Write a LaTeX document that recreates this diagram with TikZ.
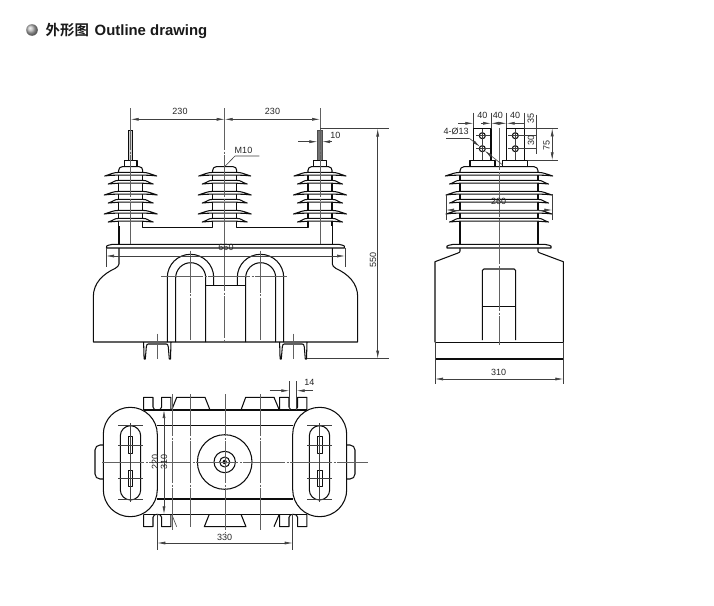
\documentclass[tikz,border=0pt]{standalone}
\usepackage{fontspec}
\setmainfont{Liberation Sans}
\newfontfamily\cjkfont{Noto Sans CJK SC}[BoldFont={Noto Sans CJK SC Bold}]
\usetikzlibrary{arrows.meta}
\definecolor{dimc}{gray}{0.25}
\definecolor{cenc}{gray}{0.38}
\definecolor{inkc}{gray}{0.05}
\tikzset{
  body/.style={draw=inkc,line width=1.05pt,line join=round},
  shedshape/.style={draw=inkc,fill=white,line width=1.05pt,line join=round},
  dimline/.style={draw=dimc,line width=0.6pt},
  extline/.style={draw=dimc,line width=0.6pt},
  cenline/.style={draw=cenc,line width=0.7pt,dash pattern=on 42pt off 1.5pt on 2pt off 1.5pt},
  oneend/.style={dimline,-{Latex[length=8pt,width=3pt]}},
  twoend/.style={dimline,{Latex[length=8pt,width=3pt]}-{Latex[length=8pt,width=3pt]}},
  dimtext/.style={font=\fontsize{9}{9}\selectfont,text=black!85,inner sep=0pt},
  vtext/.style={dimtext,rotate=90}
}
% cx, tip y, half width, stem half width
\newcommand{\shedat}[4]{%
  \filldraw[shedshape] ({#1-#3},#2)
    .. controls ({#1-#3+7},{#2-2.2}) and ({#1-#4-5},{#2-3.6}) .. ({#1-#4},{#2-3.6})
    -- ({#1+#4},{#2-3.6})
    .. controls ({#1+#4+5},{#2-3.6}) and ({#1+#3-7},{#2-2.2}) .. ({#1+#3},#2)
    .. controls ({#1+#3-6},{#2-0.8}) and ({#1+#4+5},{#2-0.8}) .. ({#1+#4},{#2-0.8})
    -- ({#1-#4},{#2-0.8})
    .. controls ({#1-#4-5},{#2-0.8}) and ({#1-#3+6},{#2-0.8}) .. cycle;}
% cx: full stack for front view
\newcommand{\stackat}[1]{%
  \draw[body,rounded corners=3.5pt] ({#1-12},176) -- ({#1-12},166.7) -- ({#1+12},166.7) -- ({#1+12},176);
  \draw[body] ({#1-12},172) -- ({#1-12},226) ({#1+12},172) -- ({#1+12},226);
  \shedat{#1}{176}{26}{12}\shedat{#1}{184}{22.5}{12}
  \shedat{#1}{195}{26.5}{12}\shedat{#1}{203}{22.5}{12}
  \shedat{#1}{214}{26.5}{12}\shedat{#1}{222}{22.5}{12}}
% bottom view mounting foot; #1 centre x, #2 outer y, #3 inner y, #4 sign
\newcommand{\footat}[4]{%
  \draw[body] ({#1-13.6},#3) -- ({#1-13.6},#2) -- ({#1-4.3},#2) -- ({#1-4.3},{#3-#4*3}) .. controls ({#1-4.3},{#3-#4*0.5}) and ({#1-2},{#3}) .. (#1,#3)
   .. controls ({#1+2},{#3}) and ({#1+4.3},{#3-#4*0.5}) .. ({#1+4.3},{#3-#4*3}) -- ({#1+4.3},#2) -- ({#1+13.6},#2) -- ({#1+13.6},#3);}
% front view foot
\newcommand{\legat}[1]{%
  \draw[body,line join=round] ({#1-13.7},342) -- ({#1-13.2},359) -- ({#1-12},359) -- ({#1-11},347)
    .. controls ({#1-10.8},344.5) and ({#1-10},344) .. ({#1-9},344) -- ({#1+9},344)
    .. controls ({#1+10},344) and ({#1+10.8},344.5) .. ({#1+11},347) -- ({#1+12},359) -- ({#1+13.2},359) -- ({#1+13.7},342);}
\begin{document}
\begin{tikzpicture}[x=1pt,y=-1pt]
\useasboundingbox (0,0) rectangle (714,605);
\fill[white] (0,0) rectangle (714,605);
% title
\shade[ball color=black!28] (32,30) circle[radius=5.8pt];
\node[anchor=base west,inner sep=0pt,text=black!90,font=\fontsize{14.4}{15}\selectfont\bfseries\cjkfont] (titlecn) at (45.5,35.5) {外形图};
\node[anchor=base west,inner sep=0pt,text=black!90,font=\fontsize{14.9}{15}\selectfont\bfseries] (titleen) at (94.5,35.5) {Outline drawing};

%%%% FRONT VIEW
% body
\draw[body] (119,248) -- (119,264) .. controls (119,266) and (117,267) .. (115,268.5)
  .. controls (103,274) and (93.3,283) .. (93.3,297) -- (93.3,342) -- (357.7,342) -- (357.7,297)
  .. controls (357.7,283) and (348,274) .. (336,268.5) .. controls (334,267) and (332.3,266) .. (332.3,264) -- (332.3,248);
\draw[body] (106.5,248) .. controls (105.5,246.5) and (106,245.5) .. (112,244.4) -- (339,244.4) .. controls (345,245.5) and (345.5,246.5) .. (344.5,248) -- cycle;
\draw[body] (119,226) -- (119,244) (332.3,226) -- (332.3,244);
\draw[body] (142.7,224) -- (142.7,227.8) -- (212.7,227.8) -- (212.7,224);
\draw[body] (236.7,224) -- (236.7,227.8) -- (308,227.8) -- (308,224);
% rods
\filldraw[draw=inkc,fill=black!18,line width=0.8pt] (128.4,161) -- (128.4,130) -- (132.8,130) -- (132.8,161);
\filldraw[draw=black!70,fill=black!55,line width=0.8pt] (317.4,161) -- (317.4,130) -- (322.2,130) -- (322.2,161);
\draw[body] (124.3,167) -- (124.3,160.7) -- (137,160.7) -- (137,167);
\draw[body] (313.5,167) -- (313.5,160.7) -- (326.5,160.7) -- (326.5,167);
\stackat{130.7}\stackat{224.7}\stackat{320}
% U loops
\draw[body,rounded corners=23.2pt] (167.3,342) -- (167.3,254.3) -- (213.7,254.3) -- (213.7,285.3);
\draw[body,rounded corners=15pt] (175.7,342) -- (175.7,262.7) -- (205.7,262.7) -- (205.7,342);
\draw[body,rounded corners=23.2pt] (237.3,285.3) -- (237.3,254.3) -- (283.7,254.3) -- (283.7,342);
\draw[body,rounded corners=15pt] (245.7,342) -- (245.7,262.7) -- (275.7,262.7) -- (275.7,342);
\draw[body] (205.7,285.5) -- (245.7,285.5);
\legat{157.3}\legat{293.3}
% front centre lines
\draw[cenline] (130.7,108) -- (130.7,244);
\draw[cenline] (224.7,108) -- (224.7,342);
\draw[cenline] (320,108) -- (320,244);
\draw[cenline] (190.3,250.5) -- (190.3,342);
\draw[cenline] (260.7,250.5) -- (260.7,342);
\draw[cenline] (161,276.7) -- (286.7,276.7);
\draw[cenline] (157.3,333.5) -- (157.3,358.5);
\draw[cenline] (293.3,333.5) -- (293.3,358.5);
% front dims
\draw[twoend] (130.7,119.3) -- (224.7,119.3);
\draw[twoend] (224.7,119.3) -- (320,119.3);
\node[dimtext] (d230a) at (180,111.5) {230};
\node[dimtext] (d230b) at (272.5,111.5) {230};
\draw[oneend] (298,141.7) -- (317.4,141.7);
\draw[oneend] (331.7,141.7) -- (322.2,141.7);
\node[dimtext] (d10) at (335.3,135.5) {10};
\draw[dimline] (225.3,166) -- (235,156) -- (259.3,156);
\node[dimtext] (dm10) at (243.5,150.3) {M10};
\draw[extline] (106,248) -- (106,267);
\draw[extline] (345,248) -- (345,267);
\draw[twoend] (106,256) -- (345,256);
\node[dimtext] (d660) at (226,247.5) {660};
\draw[extline] (320,128.5) -- (388.5,128.5);
\draw[extline,line width=0.9pt] (307,358.7) -- (388.5,358.7);
\draw[twoend] (377.7,128.5) -- (377.7,358.7);
\node[vtext] (d550) at (373,260) {550};

%%%% SIDE VIEW
\draw[body] (473.3,160) -- (473.3,128.3) -- (491,128.3) -- (491,160);
\draw[body] (506.7,160) -- (506.7,128.3) -- (524.3,128.3) -- (524.3,160);
\draw[body] (470,166.7) -- (470,160.3) -- (495,160.3) -- (495,166.7);
\draw[body] (502.7,166.7) -- (502.7,160.3) -- (527.7,160.3) -- (527.7,166.7);
\foreach \px/\py [count=\i] in {482.3/135.7,482.3/148.7,515.3/135.7,515.3/148.7}
  \draw[draw=inkc,line width=1.05pt] (\px,\py) circle[radius=3pt];
% side stem & sheds
\draw[body,rounded corners=4pt] (460,176) -- (460,166.7) -- (538,166.7) -- (538,176);
\draw[body] (460,172) -- (460,244.4) (538,172) -- (538,244.4);
\shedat{499}{176}{53.7}{39}\shedat{499}{184}{49.5}{39}
\shedat{499}{195}{53}{39}\shedat{499}{203}{49.5}{39}
\shedat{499}{214}{53}{39}\shedat{499}{222}{49.5}{39}
% side lower body
\draw[body] (447,248) .. controls (445.5,246.5) and (446.5,245.5) .. (453,244.4) -- (545,244.4) .. controls (551.5,245.5) and (552.5,246.5) .. (551,248) -- cycle;
\draw[body] (460,248) -- (460,251) .. controls (460,252) and (459.5,252.6) .. (458,253) -- (435,261.7) -- (435,342.3);
\draw[body] (538,248) -- (538,251) .. controls (538,252) and (538.5,252.6) .. (540,253) -- (563.3,261.7) -- (563.3,342.3);
\draw[body] (435,342.3) -- (563.3,342.3);
\draw[body] (435,359) -- (563.3,359);
\draw[body,rounded corners=1.5pt] (482.3,340) -- (482.3,269) -- (515.7,269) -- (515.7,340);
\draw[body] (482.3,306.7) -- (515.7,306.7);
% side centre lines
\draw[cenline] (499,128) -- (499,345);
\draw[extline] (482.3,129) -- (482.3,160);
\draw[extline] (515.3,129) -- (515.3,160);
\draw[extline] (476,135.7) -- (490,135.7) (476,148.7) -- (490,148.7);
\draw[extline] (508,135.7) -- (537,135.7) (508,148.7) -- (537,148.7);
% side dims
\foreach \ex in {473.3,491,506.7,524.3}
  \draw[extline] (\ex,112.7) -- (\ex,128.3);
\draw[oneend] (458,123.3) -- (473.3,123.3);
\draw[oneend] (481,123.3) -- (491,123.3);
\draw[twoend] (491,123.3) -- (506.7,123.3);
\draw[oneend] (516.5,123.3) -- (506.7,123.3);
\draw[dimline] (516.5,123.3) -- (524.3,123.3);
\node[dimtext] (d40a) at (482.3,115.3) {40};
\node[dimtext] (d40b) at (497.8,115.3) {40};
\node[dimtext] (d40c) at (515,115.3) {40};
\draw[extline] (536,114.5) -- (536,154);
\draw[extline] (524.3,128.3) -- (558.3,128.3);
\draw[extline] (527.7,160.3) -- (558.3,160.3);
\draw[twoend] (552.2,128.3) -- (552.2,160.3);
\node[vtext] (d35) at (530.7,118.5) {35};
\node[vtext] (d30) at (531,140.7) {30};
\node[vtext] (d75) at (546.5,145.7) {75};
\node[dimtext,anchor=west] (dhole) at (443.5,131) {4-Ø13};
\draw[dimline,line width=0.8pt] (446,138.3) -- (469.3,138.3);
\draw[oneend] (469.3,138.3) -- (480,146.7);
\draw[oneend] (502.7,165) -- (484.7,150.7);
\draw[extline] (446,194) -- (446,220);
\draw[extline] (552.3,194) -- (552.3,220);
\draw[twoend] (446,210) -- (552.3,210);
\node[dimtext] (d260) at (498.5,201) {260};
\draw[extline] (435,342.3) -- (435,384);
\draw[extline] (563.3,342.3) -- (563.3,384);
\draw[twoend] (435,379) -- (563.3,379);
\node[dimtext] (d310b) at (498.5,372.3) {310};

%%%% BOTTOM VIEW
% trapezoids
\draw[body] (171.7,410) -- (176.7,397.3) -- (205,397.3) -- (210,410);
\draw[body] (241,410) -- (245.7,397.3) -- (274,397.3) -- (279.3,410);
\draw[dimline] (171.7,514.3) -- (176.7,526.7);
\draw[body] (209.3,514.3) -- (204.3,526.7) -- (246,526.7) -- (241,514.3);
\draw[body] (274,526.7) -- (279.3,514.3);
% feet
\footat{157.3}{397.3}{410}{1}
\footat{293.3}{397.3}{410}{1}
\footat{157.3}{526.7}{514.3}{-1}
\footat{293.3}{526.7}{514.3}{-1}
% main rectangle lines
\draw[body] (143.7,410) -- (307,410);
\draw[body] (157.3,425.3) -- (292.7,425.3);
\draw[body] (157.3,499) -- (292.7,499);
\draw[body] (143.7,514.3) -- (307,514.3);
% ears
\draw[body,rounded corners=5pt] (103.3,445) -- (95,445) -- (95,479) -- (103.3,479);
\draw[body,rounded corners=5pt] (346.7,445) -- (355,445) -- (355,479) -- (346.7,479);
% ovals
\filldraw[body,fill=white,rounded corners=27pt] (103.3,407.3) rectangle (157.3,516.7);
\filldraw[body,fill=white,rounded corners=27pt] (292.7,407.3) rectangle (346.7,516.7);
\draw[body,rounded corners=10.2pt] (120.3,425.7) rectangle (140.7,500);
\draw[body,rounded corners=10.2pt] (309.3,425.7) rectangle (329.7,500);
\draw[body,line width=0.8pt] (128.4,436.7) rectangle (132.8,453.3);
\draw[body,line width=0.8pt] (128.4,470) rectangle (132.8,486.7);
\draw[body,line width=0.8pt] (317.6,436.7) rectangle (322,453.3);
\draw[body,line width=0.8pt] (317.6,470) rectangle (322,486.7);
% central circles
\draw[body] (224.7,462) circle[radius=27.3pt];
\draw[body] (224.7,462) circle[radius=10.7pt];
\draw[body] (224.7,462) circle[radius=5pt];
\fill[inkc] (224.7,462) circle[radius=2.2pt];
% centre lines bottom
\draw[cenline] (102,462) -- (368,462);
\draw[cenline] (172.7,394) -- (172.7,530);
\draw[cenline] (190.3,394) -- (190.3,527);
\draw[cenline] (225.3,394) -- (225.3,533);
\draw[cenline] (260,394) -- (260,530);
\draw[extline] (130.7,423) -- (130.7,502);
\draw[extline] (319.7,423) -- (319.7,502);
\foreach \cy in {425.3,445,478.7,499}{
  \draw[extline] (118,\cy) -- (143,\cy);
  \draw[extline] (307,\cy) -- (332,\cy);}
% bottom dims
\draw[extline] (289.3,381) -- (289.3,410);
\draw[extline] (296.7,381) -- (296.7,410);
\draw[oneend] (269.5,390.7) -- (289.3,390.7);
\draw[oneend] (313,390.7) -- (296.7,390.7);
\node[dimtext] (d14) at (309.3,382.7) {14};
\draw[twoend] (164,410) -- (164,514.3);
\node[vtext] (d220) at (155,461.7) {220};
\node[vtext] (d310a) at (164,461.7) {310};
\draw[extline] (157.3,514.3) -- (157.3,550);
\draw[extline] (292.7,514.3) -- (292.7,550);
\draw[twoend] (157.3,543) -- (292.7,543);
\node[dimtext] (d330) at (224.7,537.7) {330};
\end{tikzpicture}
\end{document}
